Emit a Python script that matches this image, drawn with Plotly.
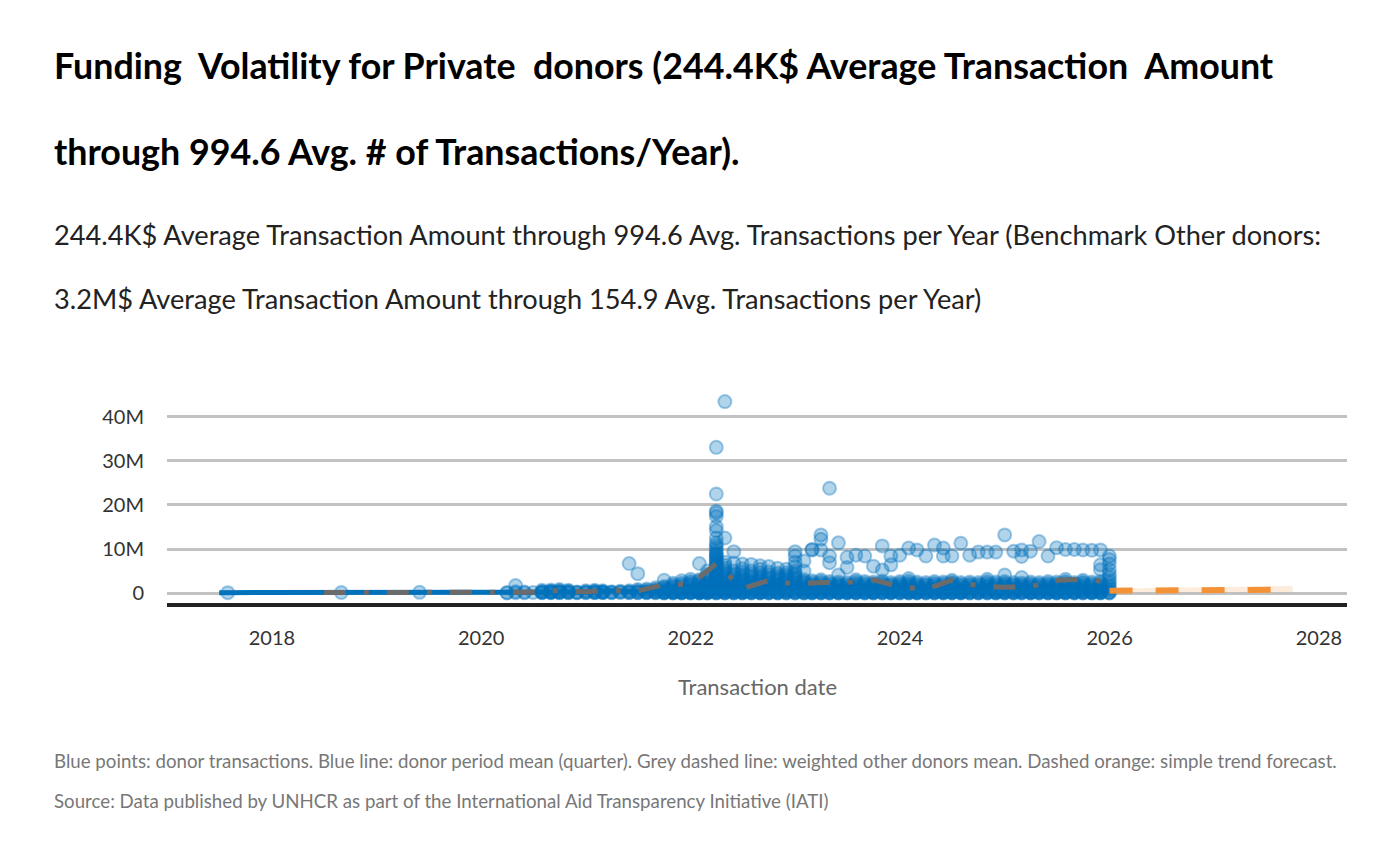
import pandas as pd
import plotly.graph_objects as go

# ---------------- data (values in millions of US$) ----------------
# donor transactions, grouped by month (dated at month end); amounts in M$
monthly_tx = {
    "2017-07": "0.08",
    "2018-08": "0.1",
    "2019-05": "0.15",
    "2020-03": "0.1 0.02",
    "2020-04": "1.7 0.05 0.3",
    "2020-05": "0.05 0.2",
    "2020-06": "0.1",
    "2020-07": "0.3 0.1 0.6 0.2 0.05",
    "2020-08": "0.4 0.1 0.7 0.2 0.05 0.3",
    "2020-09": "0.5 0.2 0.8 0.1 0.3 0.05",
    "2020-10": "0.6 0.2 0.4 0.1 0.05",
    "2020-11": "0.2 0.05 0.1",
    "2020-12": "0.3 0.1 0.5 0.05",
    "2021-01": "0.4 0.2 0.6 0.1 0.05",
    "2021-02": "0.3 0.5 0.1 0.2 0.05",
    "2021-03": "0.3 0.1 0.05",
    "2021-04": "0.2 0.4 0.1",
    "2021-05": "6.7 0.3 0.1 0.5 0.05",
    "2021-06": "4.4 0.5 0.2 0.8 0.1 0.05",
    "2021-07": "0.6 0.3 0.9 0.1 0.05 0.2",
    "2021-08": "0.8 0.4 1.2 0.2 0.05 0.6 0.1",
    "2021-09": "2.9 1.0 0.5 1.5 0.2 0.1 0.05 0.3 0.7 1.2 0.02",
    "2021-10": "2.2 1.2 0.6 1.8 0.3 0.1 0.9 0.05 0.4 0.2 1.5 0.02",
    "2021-11": "2.8 1.5 0.8 2.2 0.4 0.1 1.1 0.6 0.05 0.3 0.2 1.8 0.02",
    "2021-12": "3.1 2.0 1.0 2.6 0.5 0.2 1.4 0.7 0.05 0.3 0.1 1.7 2.3 0.02",
    "2022-01": "6.7 3.0 2.2 1.2 2.8 0.6 0.2 1.6 0.9 0.1 0.4 0.02 0.05 0.15 0.3 0.5 0.75 1.0 1.4 1.9",
    "2022-02": "5.0 3.5 2.5 1.5 4.2 0.7 0.3 1.9 1.0 0.1 0.5 2.9 0.02 0.05 0.2 0.4 0.6 0.85 1.2 1.7 2.2",
    "2022-03": "33.1 22.5 18.6 18.2 17.4 15.1 14.2 12.5 11.4 10.8 10.2 9.6 9.1 8.8 8.4 8.0 7.6 7.3 "
               "6.9 6.6 6.2 5.9 5.5 5.2 4.9 4.6 4.3 4.0 3.7 3.4 3.1 2.8 2.5 2.3 2.0 1.8 1.5 1.3 "
               "1.1 0.9 0.7 0.5 0.35 0.2 0.1 0.05 0.02",
    "2022-04": "43.5 12.5 7.0 6.3 5.6 5.0 4.5 4.0 3.6 3.2 2.9 2.5 2.2 1.9 1.6 1.3 1.1 0.9 0.7 0.5 "
               "0.4 0.25 0.1 0.05 0.02",
    "2022-05": "9.4 6.8 5.0 4.4 3.9 3.5 3.1 2.7 2.4 2.1 1.8 1.5 1.3 1.1 0.9 0.7 0.5 0.35 0.2 0.1 0.05 0.02",
    "2022-06": "6.6 5.5 4.8 4.2 3.7 3.3 2.9 2.6 2.3 2.0 1.7 1.4 1.2 0.9 0.7 0.5 0.35 0.2 0.1 0.05 0.02",
    "2022-07": "6.5 5.0 4.4 3.8 3.4 3.0 2.6 2.3 2.0 1.7 1.5 1.2 1.0 0.8 0.6 0.4 0.25 0.1 0.05 0.02",
    "2022-08": "6.2 5.4 4.6 4.0 3.5 3.1 2.7 2.4 2.1 1.8 1.5 1.2 1.0 0.7 0.5 0.3 0.2 0.1 0.05 0.02",
    "2022-09": "6.0 4.8 4.2 3.6 3.2 2.8 2.4 2.1 1.8 1.5 1.25 1.0 0.8 0.6 0.4 0.2 0.1 0.05 0.02",
    "2022-10": "5.6 4.5 4.0 3.5 3.1 2.7 2.3 2.0 1.7 1.4 1.15 0.9 0.7 0.5 0.35 0.2 0.1 0.05 0.02",
    "2022-11": "5.4 4.6 4.1 3.7 3.3 2.9 2.5 2.2 1.9 1.6 1.3 1.0 0.8 0.6 0.45 0.3 0.15 0.05 0.02",
    "2022-12": "9.4 8.4 7.0 6.0 5.0 4.5 4.0 3.5 3.1 2.7 2.3 2.0 1.6 1.3 1.0 0.75 0.5 0.3 0.1 0.05 0.02",
    "2023-01": "7.3 5.0 3.0 2.6 2.3 1.9 1.6 1.3 1.0 0.8 0.6 0.4 0.25 0.1 0.05 0.02",
    "2023-02": "9.9 9.8 2.8 2.4 2.0 1.7 1.4 1.15 0.9 0.7 0.5 0.35 0.2 0.1 0.05 0.02",
    "2023-03": "13.2 12.2 9.8 3.0 2.6 2.2 1.8 1.5 1.25 1.0 0.8 0.6 0.4 0.25 0.1 0.05 0.02",
    "2023-04": "23.8 8.4 6.9 2.6 2.2 1.9 1.6 1.3 1.05 0.8 0.6 0.4 0.25 0.1 0.05 0.02",
    "2023-05": "11.4 4.1 2.5 2.1 1.8 1.5 1.2 0.95 0.7 0.5 0.35 0.2 0.1 0.05 0.02",
    "2023-06": "8.1 5.8 2.4 2.0 1.7 1.4 1.1 0.85 0.6 0.45 0.3 0.2 0.1 0.05 0.02",
    "2023-07": "8.6 3.0 2.6 2.2 1.9 1.6 1.3 1.0 0.75 0.5 0.35 0.2 0.1 0.05 0.02",
    "2023-08": "8.4 2.6 2.2 1.9 1.6 1.3 1.05 0.8 0.6 0.4 0.25 0.1 0.05 0.02",
    "2023-09": "6.1 2.5 2.1 1.8 1.5 1.2 0.95 0.7 0.5 0.3 0.2 0.1 0.05 0.02",
    "2023-10": "10.7 5.2 2.7 2.3 2.0 1.7 1.4 1.1 0.9 0.65 0.45 0.3 0.15 0.05 0.02",
    "2023-11": "8.4 6.4 2.4 2.0 1.7 1.4 1.1 0.85 0.6 0.45 0.3 0.2 0.1 0.05 0.02",
    "2023-12": "8.6 2.6 2.2 1.9 1.6 1.3 1.05 0.8 0.6 0.4 0.25 0.1 0.05 0.02",
    "2024-01": "10.2 3.3 2.7 2.3 1.9 1.6 1.3 1.0 0.75 0.5 0.35 0.2 0.1 0.05 0.02",
    "2024-02": "9.8 2.5 2.1 1.8 1.5 1.2 0.95 0.7 0.5 0.3 0.2 0.1 0.05 0.02",
    "2024-03": "8.4 2.4 2.0 1.7 1.4 1.1 0.85 0.6 0.4 0.25 0.15 0.05 0.02",
    "2024-04": "10.9 2.6 2.2 1.9 1.6 1.3 1.05 0.8 0.6 0.4 0.25 0.1 0.05 0.02",
    "2024-05": "10.2 8.4 2.5 2.1 1.8 1.5 1.2 0.95 0.7 0.5 0.3 0.2 0.1 0.05 0.02",
    "2024-06": "8.4 2.9 2.5 2.2 1.8 1.5 1.25 1.0 0.75 0.5 0.35 0.2 0.1 0.05 0.02",
    "2024-07": "11.3 2.4 2.0 1.7 1.4 1.1 0.85 0.6 0.45 0.3 0.2 0.1 0.05 0.02",
    "2024-08": "8.6 2.5 2.1 1.8 1.5 1.2 0.95 0.7 0.5 0.3 0.15 0.05 0.02",
    "2024-09": "9.3 2.4 2.0 1.7 1.4 1.1 0.85 0.6 0.4 0.25 0.1 0.05 0.02",
    "2024-10": "9.3 3.1 2.6 2.2 1.8 1.5 1.2 0.9 0.65 0.45 0.3 0.15 0.05 0.02",
    "2024-11": "9.3 2.5 2.1 1.8 1.5 1.2 0.95 0.7 0.5 0.3 0.2 0.1 0.05 0.02",
    "2024-12": "13.2 4.1 2.6 2.2 1.9 1.6 1.3 1.05 0.8 0.6 0.4 0.25 0.1 0.05 0.02",
    "2025-01": "9.5 2.4 2.0 1.7 1.4 1.1 0.85 0.6 0.4 0.25 0.1 0.05 0.02",
    "2025-02": "9.8 8.3 3.5 2.3 1.9 1.6 1.3 1.0 0.75 0.5 0.3 0.15 0.05 0.02",
    "2025-03": "9.5 2.5 2.1 1.8 1.5 1.2 0.95 0.7 0.5 0.3 0.2 0.1 0.05 0.02",
    "2025-04": "11.7 2.4 2.0 1.7 1.4 1.1 0.85 0.6 0.4 0.25 0.15 0.05 0.02",
    "2025-05": "8.4 2.6 2.2 1.9 1.6 1.3 1.05 0.8 0.6 0.4 0.25 0.1 0.05 0.02",
    "2025-06": "10.3 2.5 2.1 1.8 1.5 1.2 0.95 0.7 0.5 0.3 0.15 0.1 0.05 0.02",
    "2025-07": "9.9 3.1 2.6 2.3 1.9 1.6 1.3 1.0 0.75 0.5 0.35 0.2 0.1 0.05 0.02",
    "2025-08": "9.9 2.4 2.0 1.7 1.4 1.1 0.85 0.6 0.4 0.25 0.1 0.05 0.02",
    "2025-09": "9.8 2.9 2.5 2.2 1.8 1.5 1.2 0.9 0.65 0.45 0.3 0.15 0.05 0.02",
    "2025-10": "9.7 2.5 2.1 1.8 1.5 1.2 0.95 0.7 0.5 0.3 0.2 0.1 0.05 0.02",
    "2025-11": "9.8 6.4 5.3 2.6 2.2 1.9 1.6 1.3 1.05 0.8 0.6 0.4 0.25 0.1 0.05 0.02",
    "2025-12": "8.4 7.6 6.6 5.3 4.3 3.5 2.8 2.2 1.6 1.1 0.6 0.2 0.05 0.02",
}

# donor period mean (quarter)
donor_q_dates = ["2017-07-01", "2018-07-01", "2019-04-01", "2020-01-01", "2020-04-01",
                 "2020-07-01", "2020-10-01", "2021-01-01", "2021-04-01", "2021-07-01",
                 "2021-10-01", "2022-01-01", "2022-04-01", "2022-07-01", "2022-10-01",
                 "2023-01-01", "2023-04-01", "2023-07-01", "2023-10-01", "2024-01-01",
                 "2024-04-01", "2024-07-01", "2024-10-01", "2025-01-01", "2025-04-01",
                 "2025-07-01", "2025-10-01"]
donor_q_mean = [0.08, 0.1, 0.15, 0.1, 0.2, 0.2, 0.2, 0.2, 0.5, 0.3,
                0.5, 0.9, 0.6, 0.3, 0.3, 0.3, 0.3, 0.2, 0.2, 0.2,
                0.2, 0.2, 0.2, 0.2, 0.2, 0.2, 0.3]

# weighted other donors mean (quarter)
bench_q_dates = ["2018-07-01", "2018-10-01", "2019-01-01", "2019-04-01", "2019-07-01",
                 "2019-10-01", "2020-01-01", "2020-04-01", "2020-07-01", "2020-10-01",
                 "2021-01-01", "2021-04-01", "2021-07-01", "2021-10-01", "2022-01-01",
                 "2022-04-01", "2022-07-01", "2022-10-01", "2023-01-01", "2023-04-01",
                 "2023-07-01", "2023-10-01", "2024-01-01", "2024-04-01", "2024-07-01",
                 "2024-10-01", "2025-01-01", "2025-04-01", "2025-07-01", "2025-10-01",
                 "2026-01-01"]
bench_q_mean = [0.1, 0.1, 0.1, 0.1, 0.1, 0.1, 0.1, 0.15, 0.2, 0.6,
                0.3, 0.6, 0.5, 1.9, 2.0, 6.7, 1.0, 2.9, 2.0, 2.4,
                2.4, 3.0, 1.4, 0.8, 3.0, 1.6, 1.3, 1.5, 2.9, 3.1,
                2.5]

# simple trend forecast with band
fc_dates = ["2026-01-01", "2026-04-01", "2026-07-01", "2026-10-01",
            "2027-01-01", "2027-04-01", "2027-07-01", "2027-10-01"]
fc_mid = [0.52, 0.55, 0.58, 0.62, 0.65, 0.68, 0.72, 0.75]
fc_low = [0.15, 0.15, 0.15, 0.15, 0.15, 0.15, 0.15, 0.15]
fc_high = [0.95, 1.05, 1.12, 1.2, 1.3, 1.4, 1.5, 1.6]

y_tick_vals = [0, 10, 20, 30, 40]
y_tick_text = ["0", "10M", "20M", "30M", "40M"]
x_tick_vals = ["2018-01-01", "2020-01-01", "2022-01-01", "2024-01-01", "2026-01-01", "2028-01-01"]
x_tick_text = ["2018", "2020", "2022", "2024", "2026", "2028"]

# ---------------- build ----------------
tx_dates, tx_vals = [], []
for month, vals in monthly_tx.items():
    d = pd.Period(month, freq="M").end_time.normalize()
    for v in vals.split():
        tx_dates.append(d)
        tx_vals.append(float(v))

BLUE = "#0072BC"
ORANGE = "#F39237"
GREY = "#6b6b6b"
FONT = "Lato"

fig = go.Figure()
fig.add_trace(go.Scatter(
    x=tx_dates, y=tx_vals, mode="markers",
    marker=dict(size=13, color="rgba(0,114,188,0.30)",
                line=dict(color="rgba(0,114,188,0.36)", width=2)),
    showlegend=False, hoverinfo="skip"))
fig.add_trace(go.Scatter(
    x=donor_q_dates, y=donor_q_mean, mode="lines",
    line=dict(color=BLUE, width=5), showlegend=False))
fig.add_trace(go.Scatter(
    x=bench_q_dates, y=bench_q_mean, mode="lines",
    line=dict(color=GREY, width=5, dash="22px,18px,5px,18px"), showlegend=False))
fig.add_trace(go.Scatter(
    x=fc_dates + fc_dates[::-1], y=fc_high + fc_low[::-1], mode="lines",
    fill="toself", fillcolor="rgba(243,146,55,0.18)",
    line=dict(width=0), showlegend=False, hoverinfo="skip"))
fig.add_trace(go.Scatter(
    x=fc_dates, y=fc_mid, mode="lines",
    line=dict(color=ORANGE, width=6, dash="23px,23px"), showlegend=False))

# layout geometry (page is offset by the 8px body margin)
OFF = 8
W, H = 1400, 866
PL, PR, PT, PB = 167, 1347, 385, 603          # plot area in page pixels
L, R, T, B = PL - OFF, W + OFF - PR, PT - OFF, H + OFF - PB


def py(y_px):
    return (PB - y_px) / (PB - PT)


def px(x_px):
    return (x_px - PL) / (PR - PL)


fig.update_layout(
    width=W, height=H,
    margin=dict(l=L, r=R, t=T, b=B),
    paper_bgcolor="white", plot_bgcolor="white",
    font=dict(family=FONT, color="#333333"),
    showlegend=False,
)
fig.update_xaxes(
    type="date", range=["2016-12-31", "2028-04-08"],
    tickvals=x_tick_vals, ticktext=x_tick_text,
    tickfont=dict(size=20, color="#333333"),
    showgrid=False, zeroline=False,
    showline=True, linecolor="#222222", linewidth=4,
    ticks="", ticklabelstandoff=14,
)
fig.update_yaxes(
    range=[-2.273, 47.27],
    tickvals=y_tick_vals, ticktext=y_tick_text,
    tickfont=dict(size=20, color="#333333"),
    showgrid=True, gridcolor="#c2c2c2", gridwidth=2.5,
    zeroline=False, showline=False, ticks="", ticklabelstandoff=22,
)

ann = []
ann.append(dict(text="Funding  Volatility for Private  donors (244.4K$ Average Transaction  Amount",
                x=px(52), y=py(65), font=dict(size=35.8, color="#000000", family=FONT, weight="bold")))
ann.append(dict(text="through 994.6 Avg. # of Transactions/Year).",
                x=px(52), y=py(152), font=dict(size=35.8, color="#000000", family=FONT, weight="bold")))
ann.append(dict(text="244.4K$ Average Transaction Amount through 994.6 Avg. Transactions per Year (Benchmark Other donors:",
                x=px(52), y=py(235), font=dict(size=27.2, color="#222222", family=FONT)))
ann.append(dict(text="3.2M$ Average Transaction Amount through 154.9 Avg. Transactions per Year)",
                x=px(52), y=py(298), font=dict(size=27.2, color="#222222", family=FONT)))
ann.append(dict(text="Blue points: donor transactions. Blue line: donor period mean (quarter). Grey dashed line: weighted other donors mean. Dashed orange: simple trend forecast.",
                x=px(52), y=py(761), font=dict(size=18.7, color="#777777", family=FONT)))
ann.append(dict(text="Source: Data published by UNHCR as part of the International Aid Transparency Initiative (IATI)",
                x=px(52), y=py(801), font=dict(size=18.7, color="#777777", family=FONT)))
for a in ann:
    a.update(xref="paper", yref="paper", xanchor="left", yanchor="middle",
             showarrow=False, align="left")
ann.append(dict(text="Transaction date", x=0.5, y=py(686), xref="paper", yref="paper",
                xanchor="center", yanchor="middle", showarrow=False,
                font=dict(size=22, color="#666666", family=FONT)))
fig.update_layout(annotations=ann)

fig.write_html("out.html")
